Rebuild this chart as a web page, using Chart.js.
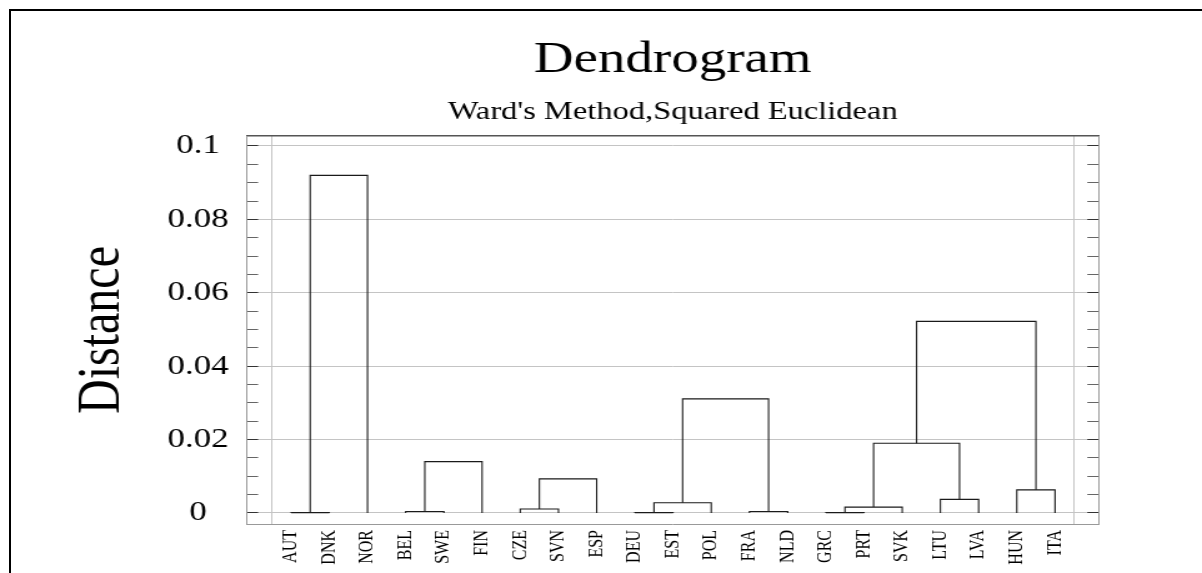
<!DOCTYPE html>
<html>
<head>
<meta charset="utf-8">
<title>Dendrogram</title>
<script src="https://cdn.jsdelivr.net/npm/chart.js@4.4.1/dist/chart.umd.min.js"></script>
<style>
  html, body { margin: 0; padding: 0; background: #fff; overflow: hidden; }
  #wrap { position: relative; width: 1202px; height: 573px; overflow: hidden; }
  /* the original picture is stretched sideways, so the canvas is too */
  #chart { position: absolute; left: 0; top: 0; transform-origin: 0 0; transform: scaleX(1.2495); }
  #frame { position: absolute; left: 9px; top: 9px; width: 1300px; height: 700px;
           border-left: 2px solid #000; border-top: 2px solid #000; }
</style>
</head>
<body>
<div id="wrap">
  <canvas id="chart" width="962" height="573"></canvas>
  <div id="frame"></div>
</div>
<script>
// Leaves, in the order they sit on the axis
const leafLabels = ['AUT', 'DNK', 'NOR', 'BEL', 'SWE', 'FIN', 'CZE', 'SVN', 'ESP', 'DEU', 'EST',
                    'POL', 'FRA', 'NLD', 'GRC', 'PRT', 'SVK', 'LTU', 'LVA', 'HUN', 'ITA'];

// Linkage: node ids < 21 are leaves, merge k creates node 21 + k
const linkLeft   = [0, 21, 3, 23, 6, 25, 9, 27, 12, 28, 14, 31, 17, 32, 19, 34];
const linkRight  = [1, 2, 4, 5, 7, 8, 10, 11, 13, 29, 15, 16, 18, 33, 20, 35];
const linkHeight = [0.0001, 0.092, 0.0004, 0.014, 0.0011, 0.0093, 0.0001, 0.0028,
                    0.0004, 0.0311, 0.0001, 0.0016, 0.0037, 0.019, 0.0063, 0.0522];

const yTickValues = [0, 0.02, 0.04, 0.06, 0.08, 0.1];
const yTickLabels = ['0', '0.02', '0.04', '0.06', '0.08', '0.1'];

// Walk the linkage to get each node's x and height
const nodeX = leafLabels.map((_, i) => i);
const nodeH = leafLabels.map(() => 0);
const links = linkLeft.map((a, k) => {
  const b = linkRight[k];
  const h = linkHeight[k];
  nodeX.push((nodeX[a] + nodeX[b]) / 2);
  nodeH.push(h);
  return [
    { x: nodeX[a], y: nodeH[a] },
    { x: nodeX[a], y: h },
    { x: nodeX[b], y: h },
    { x: nodeX[b], y: nodeH[b] }
  ];
});

const serif = "'Liberation Serif', 'Times New Roman', serif";
const X_MIN = -1.157, X_MAX = leafLabels.length - 1 + 1.14;
const Y_MIN = -0.003, Y_MAX = 0.10272;

const isMajorY = (v) => yTickValues.findIndex(t => Math.abs(t - v) < 1e-9);
const yTicks = (scale) => {
  const ticks = [];
  for (let i = 0; i <= 20; i++) ticks.push({ value: i * 0.005 });
  scale.ticks = ticks;
};
const xTicks = (scale) => {
  const ticks = [{ value: -0.5 }];
  leafLabels.forEach((_, i) => ticks.push({ value: i }));
  ticks.push({ value: leafLabels.length - 0.5 });
  scale.ticks = ticks;
};

new Chart(document.getElementById('chart'), {
  type: 'scatter',
  data: {
    datasets: links.map(pts => ({
      data: pts,
      showLine: true,
      borderColor: '#1a1a1a',
      borderWidth: 1.1,
      pointRadius: 0,
      pointHoverRadius: 0,
      fill: false,
      tension: 0
    }))
  },
  options: {
    responsive: false,
    animation: false,
    layout: { padding: 0 },
    plugins: {
      legend: { display: false },
      tooltip: { enabled: false },
      title: {
        display: true,
        text: 'Dendrogram',
        fullSize: false,
        color: '#000',
        font: { family: serif, size: 44, weight: 'normal', lineHeight: 1.2 },
        padding: { top: 33.6, bottom: 0 }
      },
      subtitle: {
        display: true,
        text: "Ward's Method,Squared Euclidean",
        fullSize: false,
        color: '#000',
        font: { family: serif, size: 26, weight: 'normal', lineHeight: 1.2 },
        padding: { top: 10.5, bottom: 7.9 }
      }
    },
    scales: {
      x: {
        type: 'linear',
        position: 'bottom',
        min: X_MIN,
        max: X_MAX,
        afterBuildTicks: xTicks,
        afterFit: (s) => { s.height = 49; },
        ticks: {
          autoSkip: false,
          minRotation: 90,
          maxRotation: 90,
          padding: 6,
          color: '#000',
          font: { family: serif, size: 16 },
          callback: (v) => Number.isInteger(v) ? leafLabels[v] : ''
        },
        grid: {
          drawTicks: false,
          color: (c) => (c.tick && !Number.isInteger(c.tick.value)) ? '#c4c4c4' : 'rgba(0,0,0,0)'
        },
        border: { color: '#999', width: 1 }
      },
      x2: {
        type: 'linear',
        position: 'top',
        min: X_MIN,
        max: X_MAX,
        afterFit: (s) => { s.height = 0; },
        ticks: { display: false },
        grid: { display: false },
        border: { color: '#555', width: 1.5 }
      },
      y: {
        type: 'linear',
        position: 'left',
        min: Y_MIN,
        max: Y_MAX,
        afterBuildTicks: yTicks,
        afterFit: (s) => { s.width = 197.6; },
        title: {
          display: true,
          text: 'Distance',
          color: '#000',
          font: { family: serif, size: 48, lineHeight: 1.2 },
          padding: { top: 53.6, bottom: 0 }
        },
        ticks: {
          autoSkip: false,
          crossAlign: 'center',
          padding: 23.6,
          color: '#000',
          font: { family: serif, size: 28 },
          callback: (v) => { const i = isMajorY(v); return i >= 0 ? yTickLabels[i] : ''; }
        },
        grid: {
          tickLength: -9,
          tickColor: (c) => (c.tick && isMajorY(c.tick.value) >= 0) ? '#333' : '#666',
          color: (c) => (c.tick && isMajorY(c.tick.value) >= 0) ? '#c4c4c4' : 'rgba(0,0,0,0)'
        },
        border: { color: '#999', width: 1 }
      },
      y2: {
        type: 'linear',
        position: 'right',
        min: Y_MIN,
        max: Y_MAX,
        afterBuildTicks: yTicks,
        afterFit: (s) => { s.width = 82.8; },
        ticks: { display: false, autoSkip: false },
        grid: {
          drawOnChartArea: false,
          tickLength: -9,
          tickColor: (c) => (c.tick && isMajorY(c.tick.value) >= 0) ? '#333' : '#666'
        },
        border: { color: '#999', width: 1 }
      }
    }
  }
});
</script>
</body>
</html>
